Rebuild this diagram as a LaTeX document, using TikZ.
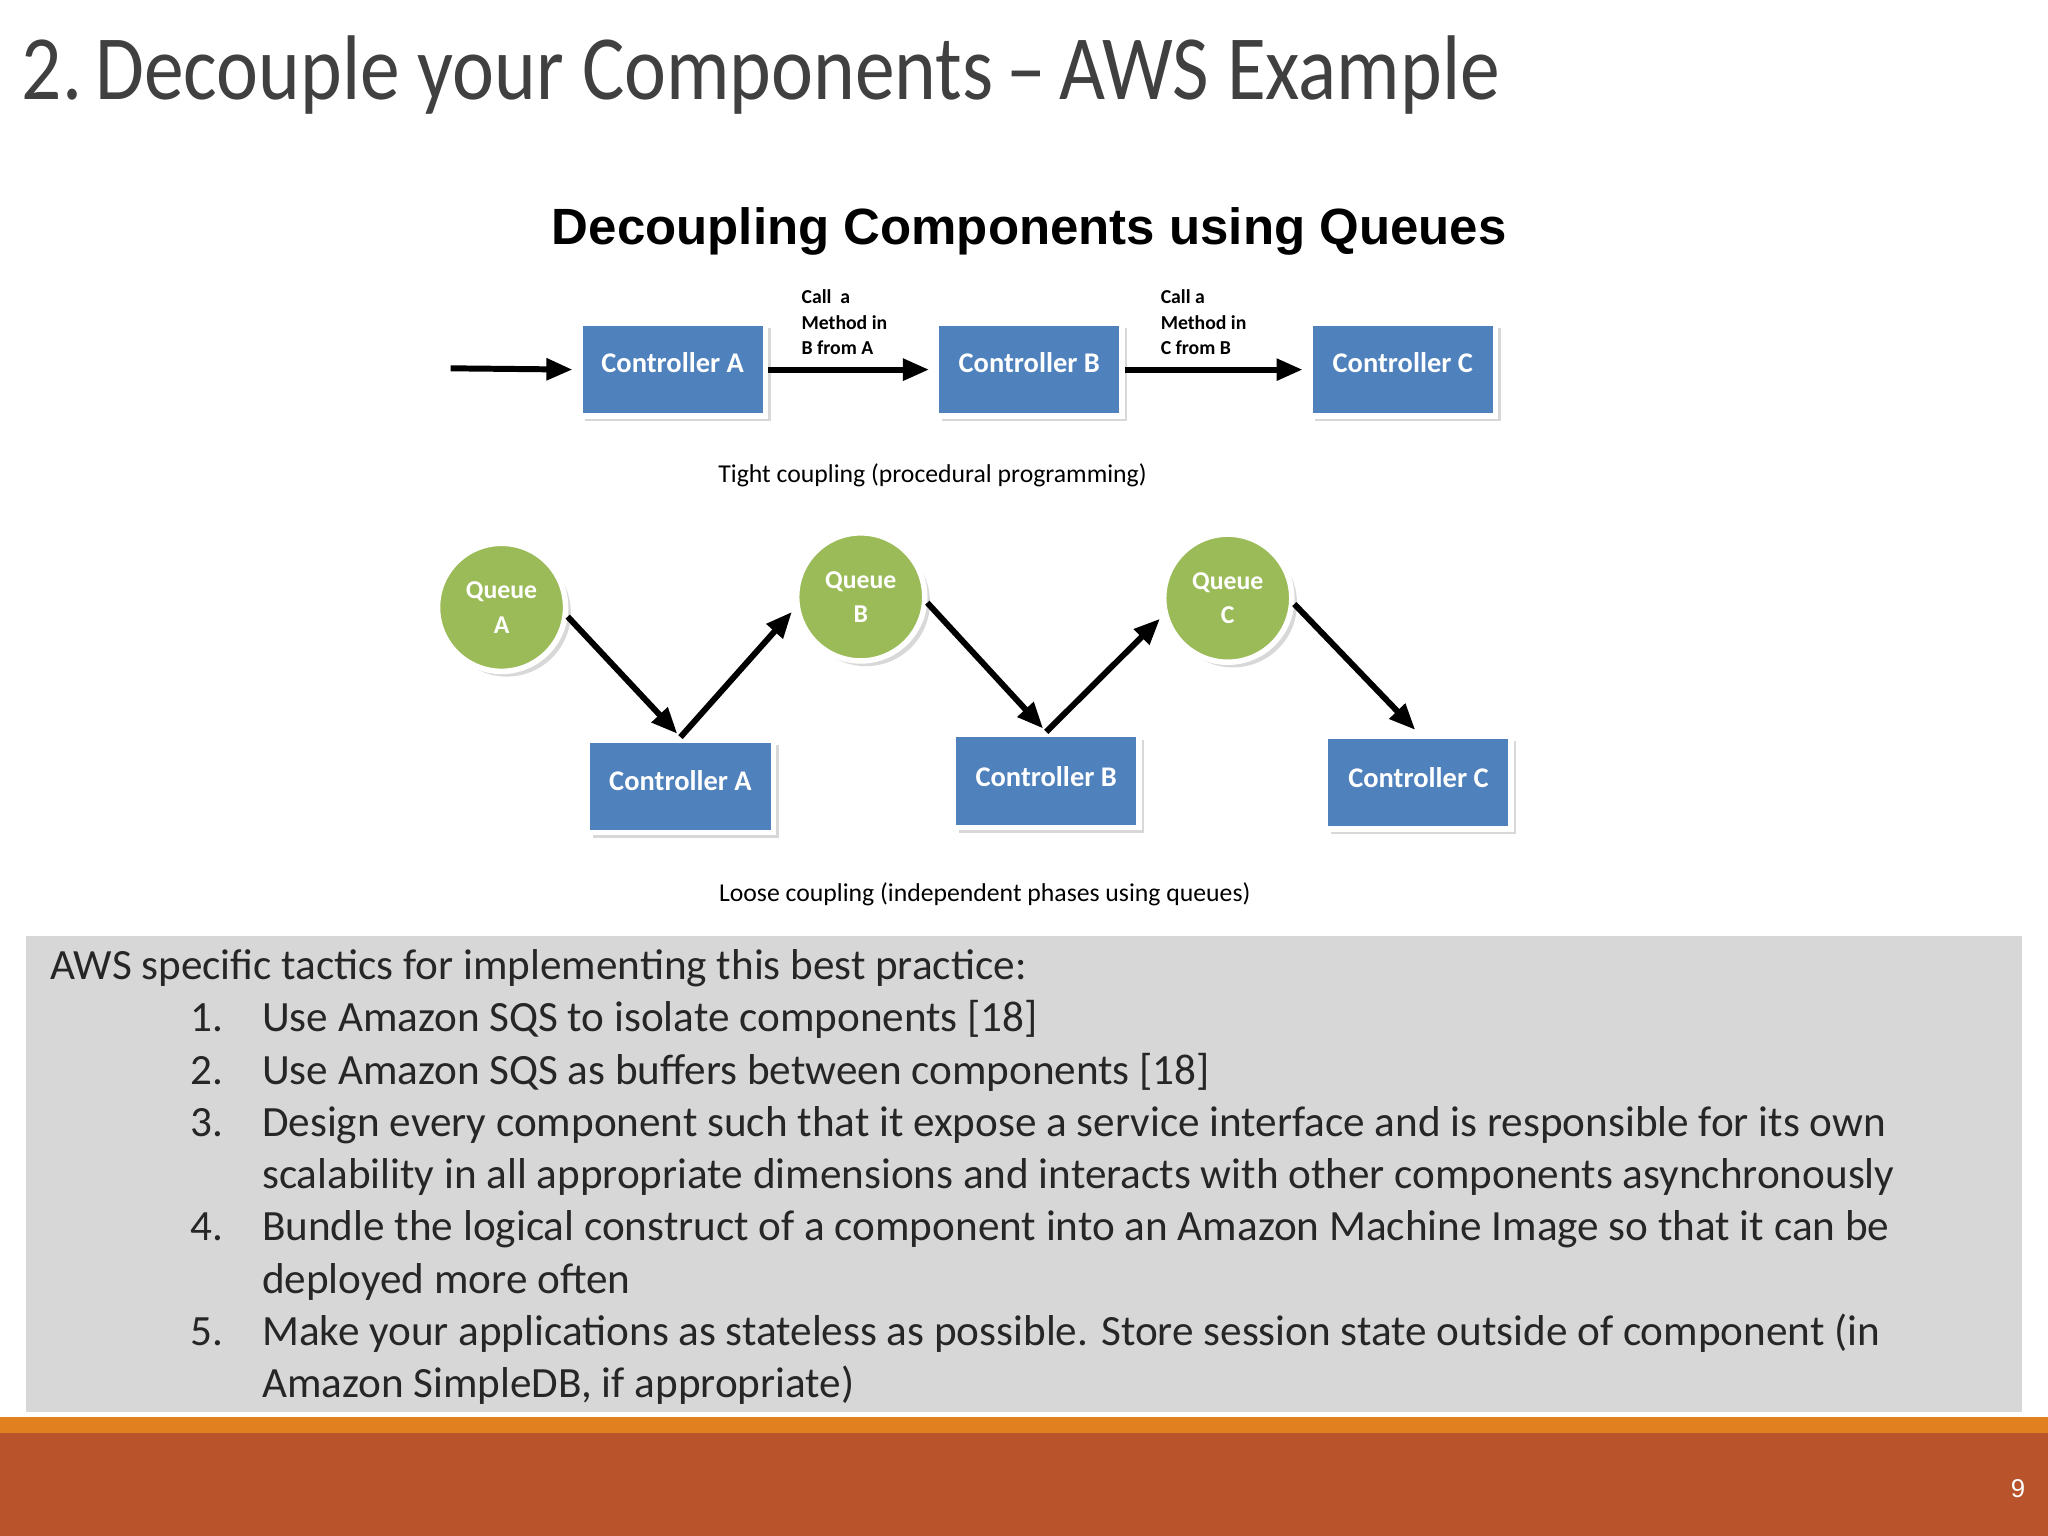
\documentclass[tikz,border=0pt]{standalone}
\usepackage{fontspec}
\setmainfont{Carlito}
\newfontfamily\arialf{Liberation Sans}
\usetikzlibrary{arrows.meta,shadows}
\definecolor{boxblue}{HTML}{4F81BD}
\definecolor{qgreen}{HTML}{9BBB59}
\definecolor{panel}{HTML}{D7D7D7}
\definecolor{titlegray}{HTML}{404040}
\definecolor{obar}{HTML}{E0801E}
\definecolor{rbar}{HTML}{B9532C}
\begin{document}
\begin{tikzpicture}[x=0.01cm,y=-0.01cm,
 ctrl/.style={draw=white,line width=1.2pt,fill=boxblue,minimum width=1.42cm,minimum height=0.71cm,inner sep=0pt,text=white,font=\fontsize{6.2}{7}\selectfont\bfseries,drop shadow={opacity=0.3,shadow xshift=0.4mm,shadow yshift=-0.4mm}},
 queue/.style={circle,draw=white,line width=1.2pt,fill=qgreen,minimum size=0.98cm,inner sep=0pt,text=white,align=center,font=\fontsize{5.6}{7.5}\selectfont\bfseries,drop shadow={opacity=0.3,shadow xshift=0.4mm,shadow yshift=-0.4mm}},
 arr/.style={-{Triangle[length=2mm,width=1.6mm]},line width=1.3pt,shorten >=1pt},
 small/.style={font=\fontsize{4.3}{5.6}\selectfont\bfseries,align=left,anchor=north west,inner sep=0pt},
 captxt/.style={font=\fontsize{5.6}{7}\selectfont,inner sep=0pt},
 body/.style={font=\fontsize{9.4}{11}\selectfont,anchor=base west,inner sep=0pt,text=black!85}]
\useasboundingbox (0,0) rectangle (1568,1176);
\fill[white] (0,0) rectangle (1568,1176);
\node[anchor=base west,inner sep=0pt,text=titlegray,font=\fontsize{20}{24}\selectfont] (title) at (16,76) {\scalebox{0.865}[1]{2.\,Decouple your Components\,--\,AWS Example}};
\node[inner sep=0pt,font=\arialf\fontsize{11.1}{13}\selectfont\bfseries] (sub) at (788,177) {Decoupling Components using Queues};
% top row
\node[ctrl] (ta) at (515,283) {\raisebox{1.1mm}{Controller A}};
\node[ctrl] (tb) at (788,283) {\raisebox{1.1mm}{Controller B}};
\node[ctrl] (tc) at (1074,283) {\raisebox{1.1mm}{Controller C}};
\coordinate (in) at (345,282);
\draw[arr] (in) -- (ta.west);
\draw[arr] (ta.east) -- (tb.west);
\draw[arr] (tb.east) -- (tc.west);
\node[small] (l1) at (613,221) {Call\ \ a\\Method in\\B from A};
\node[small] (l2) at (888,221) {Call a\\Method in\\C from B};
\node[captxt] (tight) at (714,364) {Tight coupling (procedural programming)};
% bottom
\node[queue] (qa) at (384,465) {Queue\\A};
\node[queue] (qb) at (659,457) {Queue\\B};
\node[queue] (qc) at (940,458) {Queue\\C};
\node[ctrl] (ba) at (521,602) {\raisebox{0.9mm}{Controller A}};
\node[ctrl] (bb) at (801,598) {\raisebox{0.7mm}{Controller B}};
\node[ctrl] (bc) at (1086,599) {\raisebox{0.8mm}{Controller C}};
\draw[arr] (qa.-8) -- (ba.north);
\draw[arr] (ba.north) -- (qb.190);
\draw[arr] (qb.-5) -- (bb.north);
\draw[arr] (bb.north) -- (qc.195);
\draw[arr] (qc.-5) -- (bc.north);
\node[captxt] (loose) at (754,685) {Loose coupling (independent phases using queues)};
% panel
\fill[panel] (20,717) rectangle (1548,1081);
\node[body] (h) at (38,750) {AWS specific tactics for implementing this best practice:};
\node[body] (n1) at (145,790) {1.};
\node[body] (t1) at (200,790) {Use Amazon SQS to isolate components [18]};
\node[body] (n2) at (145,830) {2.};
\node[body] (t2) at (200,830) {Use Amazon SQS as buffers between components [18]};
\node[body] (n3) at (145,870) {3.};
\node[body] (t3) at (200,870) {Design every component such that it expose a service interface and is responsible for its own};
\node[body] (t3b) at (200,910) {scalability in all appropriate dimensions and interacts with other components asynchronously};
\node[body] (n4) at (145,950) {4.};
\node[body] (t4) at (200,950) {Bundle the logical construct of a component into an Amazon Machine Image so that it can be};
\node[body] (t4b) at (200,990) {deployed more often};
\node[body] (n5) at (145,1030) {5.};
\node[body] (t5) at (200,1030) {Make your applications as stateless as possible. Store session state outside of component (in};
\node[body] (t5b) at (200,1070) {Amazon SimpleDB, if appropriate)};
% footer
\fill[obar] (0,1085) rectangle (1568,1097);
\fill[rbar] (0,1097) rectangle (1568,1176);
\node[text=white,inner sep=0pt,font=\arialf\fontsize{5.6}{7}\selectfont] (pg) at (1545,1140) {9};
\end{tikzpicture}
\end{document}
